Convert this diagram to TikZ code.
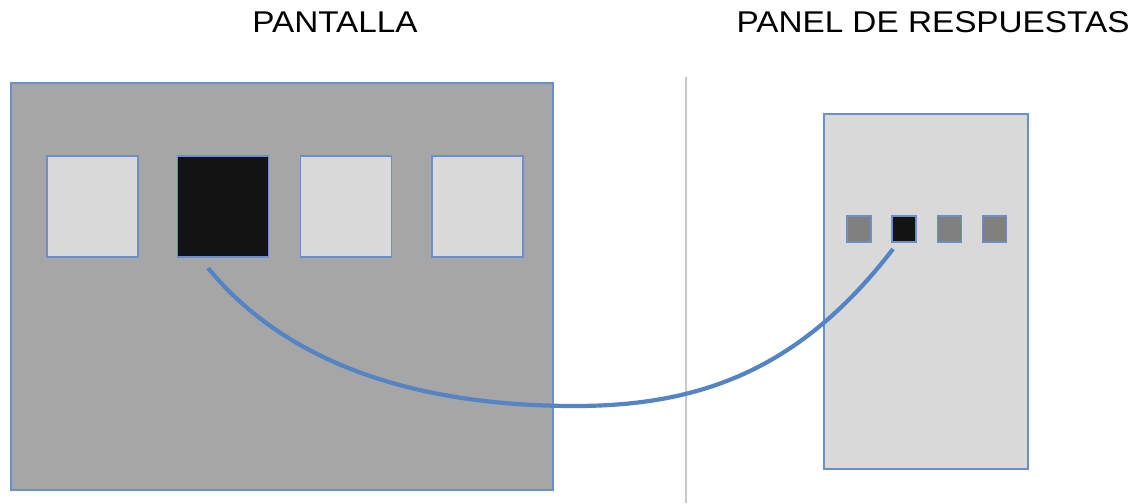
\documentclass[tikz,border=0pt]{standalone}
\usepackage{fontspec}
\setmainfont{Liberation Sans}
\usetikzlibrary{calc}
\definecolor{edgeblue}{HTML}{6A8FCC}
\definecolor{linkblue}{HTML}{5484C4}
\definecolor{screengray}{HTML}{A6A6A6}
\definecolor{lightgray}{HTML}{D9D9D9}
\definecolor{midgray}{HTML}{808080}
\definecolor{nearblack}{HTML}{131313}
\definecolor{dividergray}{HTML}{C8C8C8}
\tikzset{
  box/.style={draw=edgeblue, line width=1.3pt, inner sep=0pt, outer sep=0pt},
  bigkey/.style={box, fill=lightgray, minimum width=91pt, minimum height=101pt},
  smallkey/.style={box, line width=1.2pt, fill=midgray, minimum width=24pt, minimum height=26pt},
  heading/.style={font=\fontsize{30}{32}\selectfont, text=black, inner sep=0pt, xscale=1.11},
}
\begin{document}
\begin{tikzpicture}[x=1pt,y=-1pt]
  \useasboundingbox (0,0) rectangle (1134,503);
  % headings
  \node[heading] (t1) at (335,22.5) {PANTALLA};
  \node[heading] (t2) at (933,22.5) {PANEL DE RESPUESTAS};
  % screen
  \node[box, fill=screengray, minimum width=542pt, minimum height=407pt] (screen) at (282,286.5) {};
  \node[bigkey] (k1) at (92.5,206.5) {};
  \node[bigkey, fill=nearblack] (k2) at (223,206.5) {};
  \node[bigkey] (k3) at (346,206.5) {};
  \node[bigkey] (k4) at (477.5,206.5) {};
  % divider
  \coordinate (dtop) at (686,77);
  \coordinate (dbot) at (686,503);
  \draw[dividergray, line width=1.2pt] (dtop) -- (dbot);
  % response panel
  \node[box, fill=lightgray, minimum width=204pt, minimum height=355pt] (panel) at (926,291.5) {};
  \node[smallkey] (s1) at (859,229) {};
  \node[smallkey, fill=nearblack] (s2) at (904,229) {};
  \node[smallkey] (s3) at (949.5,229) {};
  \node[smallkey] (s4) at (994.5,229) {};
  % link between the chosen key and its response button
  \coordinate (a) at ($(k2.south)+(-15,11)$);
  \coordinate (m) at (575,406);
  \coordinate (b) at ($(s2.south)+(-11,7)$);
  \draw[linkblue, line width=4.2pt]
    (a) .. controls (300,380) and (450,406) .. (m)
        .. controls (700,406) and (800,370) .. (b);
\end{tikzpicture}
\end{document}
